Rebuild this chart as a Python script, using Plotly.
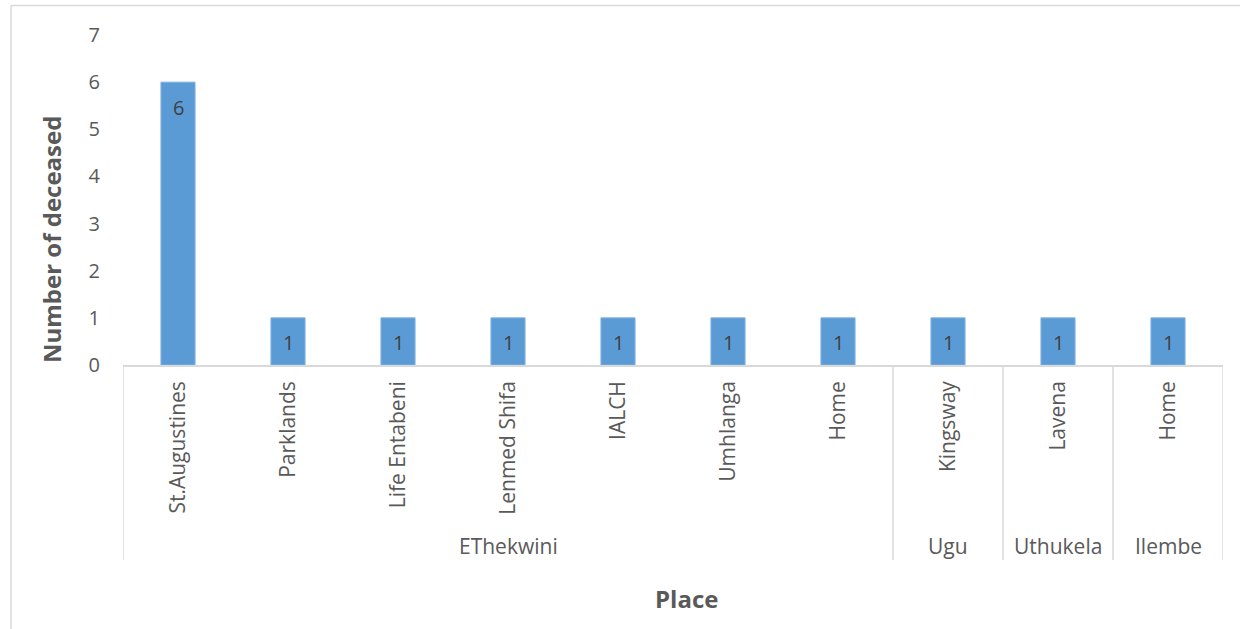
import plotly.graph_objects as go

places = ["St.Augustines", "Parklands", "Life Entabeni", "Lenmed Shifa", "IALCH",
          "Umhlanga", "Home", "Kingsway", "Lavena", "Home"]
districts = ["EThekwini", "EThekwini", "EThekwini", "EThekwini", "EThekwini",
             "EThekwini", "EThekwini", "Ugu", "Uthukela", "Ilembe"]
deceased = [6, 1, 1, 1, 1, 1, 1, 1, 1, 1]
y_ticks = [0, 1, 2, 3, 4, 5, 6, 7]

FONT = "Open Sans"
GREY = "#595959"
LINE = "#d9d9d9"

W, H = 1240, 629
L, R, T, B = 123, 17, 35, 264
PH = H - T - B
PW = W - L - R

def py(pix):
    return (H - B - pix) / PH

def px(pix):
    return (pix - L) / PW

xs = list(range(len(places)))

fig = go.Figure()
fig.add_trace(go.Bar(
    x=xs, y=deceased, width=0.31,
    marker=dict(color="#5B9BD5", line=dict(color="#7FB1E0", width=1)),
    hoverinfo="skip",
))

# group spans
groups = []
start = 0
for i in range(1, len(districts) + 1):
    if i == len(districts) or districts[i] != districts[start]:
        groups.append((districts[start], start, i - 1))
        start = i

shapes = []
annotations = []

# data labels inside bar tops
for xi, v in zip(xs, deceased):
    annotations.append(dict(text=str(v), x=xi, y=v, xref="x", yref="y",
                            showarrow=False, xanchor="center", yanchor="middle",
                            yshift=-25, font=dict(family=FONT, size=20, color="#404040")))

bottom = py(560)
bounds = [groups[0][1] - 0.5] + [g[2] + 0.5 for g in groups]
for b in bounds:
    shapes.append(dict(type="line", xref="x", yref="paper", x0=b, x1=b,
                       y0=0, y1=bottom, line=dict(color=LINE, width=1.5)))
for name, s, e in groups:
    annotations.append(dict(text=name, x=(s + e) / 2, y=py(546), xref="x", yref="paper",
                            showarrow=False, xanchor="center", yanchor="middle",
                            font=dict(family=FONT, size=21, color=GREY)))

# outer border (left and top edges; the others fall outside the view)
shapes.append(dict(type="line", xref="paper", yref="paper",
                   x0=px(11), x1=px(1300), y0=py(5.5), y1=py(5.5),
                   line=dict(color=LINE, width=1.5)))
shapes.append(dict(type="line", xref="paper", yref="paper",
                   x0=px(11), x1=px(11), y0=py(5.5), y1=py(700),
                   line=dict(color=LINE, width=1.5)))

annotations.append(dict(text="<b>Number of deceased</b>", x=px(51), y=py(240),
                        xref="paper", yref="paper", showarrow=False, textangle=-90,
                        xanchor="center", yanchor="middle",
                        font=dict(family=FONT, size=24, color=GREY)))
annotations.append(dict(text="<b>Place</b>", x=px(686), y=py(598),
                        xref="paper", yref="paper", showarrow=False,
                        xanchor="center", yanchor="middle",
                        font=dict(family=FONT, size=24, color=GREY)))

fig.update_layout(
    width=W, height=H,
    margin=dict(l=L, r=R, t=T, b=B, autoexpand=False),
    paper_bgcolor="white", plot_bgcolor="white",
    showlegend=False, hovermode=False,
    shapes=shapes, annotations=annotations,
    xaxis=dict(range=[-0.5, len(places) - 0.5], tickvals=xs, ticktext=places,
               tickangle=-90, showgrid=False, zeroline=False,
               showline=True, linecolor=LINE, linewidth=1.5,
               ticks="outside", ticklen=6, tickcolor="rgba(0,0,0,0)",
               tickfont=dict(family=FONT, size=21, color=GREY), fixedrange=True),
    yaxis=dict(range=[0, 7], tickvals=y_ticks, showgrid=False, zeroline=False,
               showline=False, ticks="outside", ticklen=18, tickcolor="rgba(0,0,0,0)",
               tickfont=dict(family=FONT, size=20, color=GREY), fixedrange=True),
)

fig.write_html("out.html", config={"displayModeBar": False},
               post_script="document.body.style.margin='0';document.body.style.overflow='hidden';")
